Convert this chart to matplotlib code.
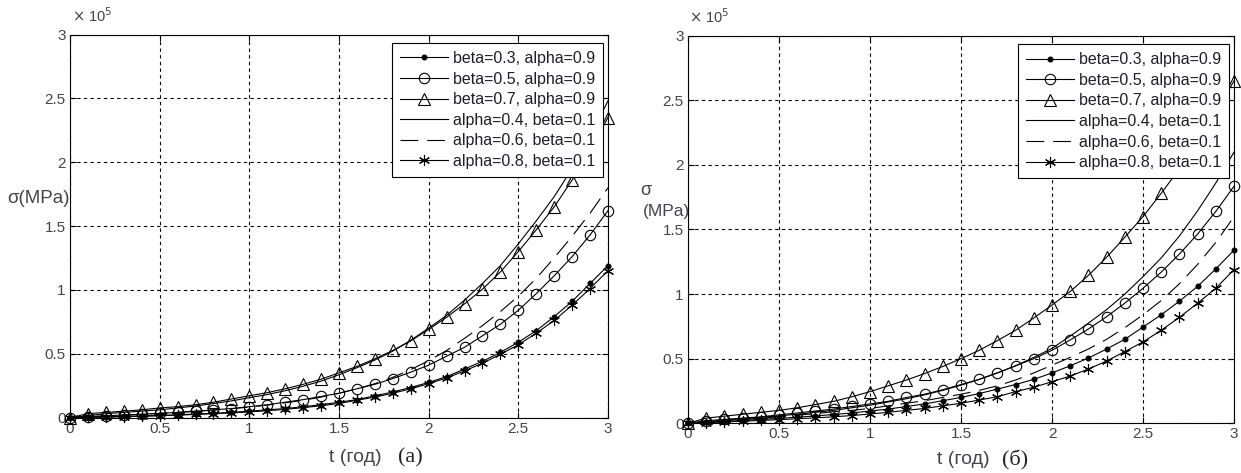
import numpy as np
import matplotlib.pyplot as plt

plt.rcParams['font.family'] = ['Liberation Sans', 'DejaVu Sans']

t = [0.0, 0.1, 0.2, 0.3, 0.4, 0.5, 0.6, 0.7, 0.8, 0.9, 1.0,
     1.1, 1.2, 1.3, 1.4, 1.5, 1.6, 1.7, 1.8, 1.9, 2.0,
     2.1, 2.2, 2.3, 2.4, 2.5, 2.6, 2.7, 2.8, 2.9, 3.0]

labels = ['beta=0.3, alpha=0.9', 'beta=0.5, alpha=0.9', 'beta=0.7, alpha=0.9',
          'alpha=0.4, beta=0.1', 'alpha=0.6, beta=0.1', 'alpha=0.8, beta=0.1']

# panel (a), sigma in units of 1e5 MPa
a_b03 = [0, .002, .005, .008, .012, .016, .021, .027, .033, .04, .05,
         .06, .07, .085, .10, .12, .14, .17, .20, .235, .275,
         .32, .38, .44, .51, .59, .68, .79, .91, 1.05, 1.19]
a_b05 = [0, .007, .013, .02, .026, .033, .04, .05, .06, .07, .085,
         .10, .12, .14, .165, .19, .225, .26, .305, .355, .41,
         .48, .55, .64, .73, .84, .97, 1.11, 1.26, 1.43, 1.62]
a_b07 = [0, .03, .04, .05, .06, .075, .085, .10, .12, .145, .17,
         .195, .225, .26, .30, .35, .40, .46, .525, .60, .69,
         .785, .89, 1.005, 1.14, 1.30, 1.47, 1.65, 1.86, 2.09, 2.35]
a_a04 = [0, .015, .03, .04, .05, .06, .075, .09, .11, .13, .155,
         .18, .21, .245, .285, .335, .39, .45, .52, .605, .70,
         .80, .92, 1.05, 1.19, 1.36, 1.54, 1.73, 1.95, 2.20, 2.48]
a_a06 = [0, .006, .012, .018, .025, .032, .04, .048, .058, .069, .082,
         .097, .115, .135, .16, .19, .225, .265, .315, .375, .445,
         .525, .62, .72, .83, .95, 1.09, 1.25, 1.42, 1.60, 1.80]
a_a08 = [0, .002, .004, .007, .01, .014, .019, .024, .03, .036, .044,
         .053, .064, .077, .092, .11, .135, .16, .19, .225, .265,
         .31, .365, .425, .495, .57, .66, .76, .88, 1.01, 1.15]

# panel (б)
b_b03 = [0, .008, .015, .022, .03, .038, .047, .057, .068, .08, .095,
         .11, .13, .15, .175, .20, .23, .265, .30, .34, .39,
         .445, .505, .575, .65, .745, .84, .945, 1.06, 1.195, 1.34]
b_b05 = [0, .02, .03, .04, .05, .065, .08, .095, .11, .13, .15,
         .17, .20, .225, .26, .30, .34, .39, .445, .50, .565,
         .645, .73, .825, .93, 1.045, 1.17, 1.31, 1.465, 1.64, 1.835]
b_b07 = [0, .04, .055, .07, .085, .10, .12, .145, .17, .205, .245,
         .29, .335, .385, .44, .50, .565, .64, .72, .815, .915,
         1.02, 1.145, 1.285, 1.44, 1.60, 1.78, 1.97, 2.18, 2.41, 2.65]
b_a04 = [0, .012, .024, .035, .046, .058, .07, .085, .10, .12, .14,
         .165, .19, .22, .255, .295, .34, .39, .445, .51, .58,
         .675, .775, .88, 1.0, 1.135, 1.28, 1.45, 1.645, 1.86, 2.10]
b_a06 = [0, .01, .02, .03, .04, .05, .062, .075, .09, .10, .115,
         .135, .155, .175, .20, .225, .255, .29, .335, .39, .45,
         .51, .575, .65, .74, .84, .95, 1.08, 1.23, 1.40, 1.60]
b_a08 = [0, .005, .011, .016, .022, .028, .035, .042, .05, .06, .072,
         .085, .10, .115, .135, .155, .18, .206, .245, .279, .322,
         .366, .42, .482, .555, .63, .72, .82, .93, 1.045, 1.19]

ticks = [0, 0.5, 1, 1.5, 2, 2.5, 3]
tick_text = ['0', '0.5', '1', '1.5', '2', '2.5', '3']

styles = [
    dict(marker='.', markersize=7, linestyle='-'),
    dict(marker='o', markersize=7.5, markerfacecolor='none', linestyle='-'),
    dict(marker='^', markersize=8, markerfacecolor='none', linestyle='-'),
    dict(marker=None, linestyle='-'),
    dict(marker=None, linestyle=(0, (16, 8))),
    dict(marker=(6, 2, 0), markersize=8, linestyle='-'),
]

fig = plt.figure(figsize=(12.41, 4.73), dpi=100)
ax1 = fig.add_axes([0.0564, 0.1173, 0.4335, 0.8097])
ax2 = fig.add_axes([0.5544, 0.1051, 0.4400, 0.8195])

panels = [(ax1, [a_b03, a_b05, a_b07, a_a04, a_a06, a_a08]),
          (ax2, [b_b03, b_b05, b_b07, b_a04, b_a06, b_a08])]

for ax, series in panels:
    for ys, lab, st in zip(series, labels, styles):
        ax.plot(t, ys, color='black', linewidth=0.8, markeredgewidth=0.8,
                label=lab, clip_on=False, **st)
    ax.set_xlim(0, 3)
    ax.set_ylim(0, 3)
    ax.set_xticks(ticks)
    ax.set_xticklabels(tick_text)
    ax.set_yticks(ticks)
    ax.set_yticklabels(tick_text)
    ax.tick_params(direction='in', length=4, top=True, right=True,
                   labelsize=11, labelcolor='#44444c', pad=3)
    ax.grid(True, color='black', linestyle=(0, (3, 3)), linewidth=0.8)
    for s in ax.spines.values():
        s.set_linewidth(0.8)
    leg = ax.legend(loc='upper right', bbox_to_anchor=(0.991, 0.978),
                    borderaxespad=0, fontsize=11.5, fancybox=False,
                    framealpha=1, edgecolor='black', handlelength=3.0,
                    handletextpad=0.3, labelspacing=0.35, borderpad=0.5)
    leg.get_frame().set_linewidth(0.8)
    for txt in leg.get_texts():
        txt.set_color('#1e1e28')

# labels
fig.text(0.058, 0.953, r'$\times$ 10$^5$', fontsize=10.5, color='#44444c')
fig.text(0.555, 0.951, r'$\times$ 10$^5$', fontsize=10.5, color='#44444c')

fig.text(0.006, 0.58, 'σ(MPa)', fontsize=13.5, color='#44444c', va='center')
fig.text(0.516, 0.598, 'σ', fontsize=13, color='#44444c', va='center')
fig.text(0.518, 0.553, '(MPa)', fontsize=12.5, color='#44444c', va='center')

fig.text(0.286, 0.024, 't (год)', fontsize=14, color='#44444c', ha='center')
fig.text(0.331, 0.022, '(а)', fontsize=16, family='Liberation Serif',
         color='#222222', ha='center')
fig.text(0.776, 0.018, 't (год)', fontsize=14, color='#44444c', ha='center')
fig.text(0.818, 0.016, '(б)', fontsize=16, family='Liberation Serif',
         color='#222222', ha='center')

fig.savefig('out.png', dpi=100)
